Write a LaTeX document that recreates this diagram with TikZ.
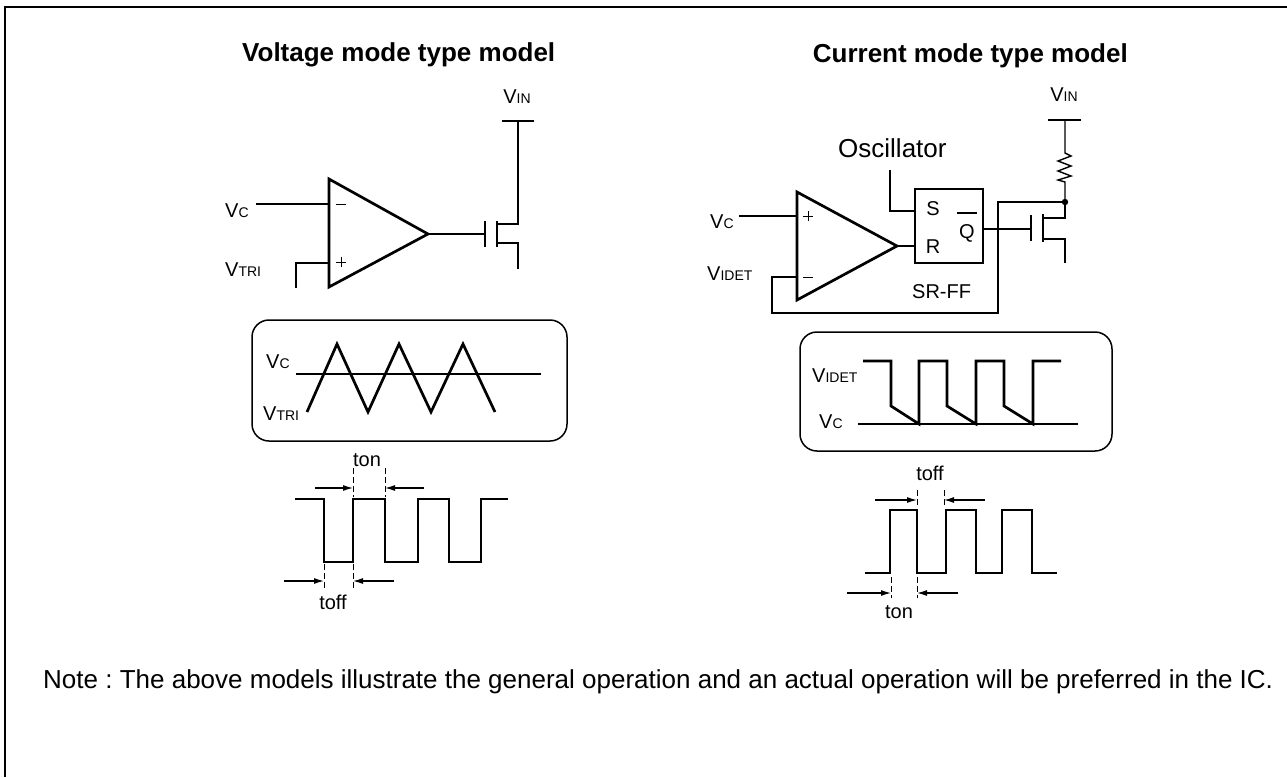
\documentclass[tikz,border=0pt]{standalone}
\usepackage{fontspec}
\setmainfont{Liberation Sans}
\usetikzlibrary{arrows.meta}
\newcommand{\subtxt}[1]{{\fontsize{14}{14}\selectfont #1}}
\frenchspacing
\begin{document}
\begin{tikzpicture}[x=1pt,y=-1pt,
  wire/.style={line width=1.4pt},
  heavy/.style={line width=2.7pt, line join=miter},
  lab/.style={inner sep=0pt, font=\fontsize{20}{24}\selectfont},
  ttl/.style={inner sep=0pt, font=\bfseries\fontsize{26}{30}\selectfont},
  big/.style={inner sep=0pt, font=\fontsize{26}{30}\selectfont},
  dsh/.style={line width=1pt, dash pattern=on 6pt off 3pt},
  arr/.style={line width=1.2pt, -{Latex[length=10pt,width=6pt]}},
  wbox/.style={line width=1.5pt, rounded corners=17pt}
]
\useasboundingbox (0,0) rectangle (1287,777);
% frame
\coordinate (F0) at (5,777);
\coordinate (F1) at (5,7);
\coordinate (F2) at (1287,7);
\draw[line width=2.5pt] (F0) -- (F1) -- (F2);

% titles
\node[ttl, anchor=base west] (tl) at (242,61) {Voltage mode type model};
\node[ttl, anchor=base east] (tr) at (1128,62) {Current mode type model};

% ================= LEFT CIRCUIT =================
\coordinate (LAt) at (329,179);
\coordinate (LAb) at (329,287);
\coordinate (LAo) at (428,234);
\coordinate (LAm) at (329,204);
\coordinate (LAp) at (329,263);
\coordinate (LVcEnd) at (256,204);
\coordinate (LTriEnd) at (296,288);
\coordinate (LG) at (485,234);
\coordinate (LVin) at (518,121);
\coordinate (LD) at (497,224);
\coordinate (LS) at (497,243);
\coordinate (LSrc) at (518,269);

\node[lab, anchor=base] (lvin) at (517,103) {V\subtxt{IN}};
\draw[heavy] (502,121) -- (534,121);
\draw[wire] (LVin) |- (LD);
\draw[wire] (LS) -| (LSrc);
\draw[heavy] (497,221) -- (497,247);
\draw[heavy] (485,221) -- (485,247);
\draw[wire] (LAo) -- (LG);
\draw[heavy] (LAt) -- (LAo) -- (LAb) -- cycle;
\draw[wire] (LVcEnd) -- (LAm);
\draw[wire] (LTriEnd) |- (LAp);
\draw[line width=1pt] (336,204) -- (346,204);
\draw[line width=1pt] (336,262) -- (346,262) (341,257) -- (341,267);
\node[lab, anchor=base west] (lvc) at (225,217) {V\subtxt{C}};
\node[lab, anchor=base west] (lvtri) at (225,276) {V\subtxt{TRI}};

% left waveform box
\draw[wbox] (252,320) rectangle (567,441);
\draw[heavy] (296,374) -- (541,374);
\draw[heavy, line join=miter] (307,412) -- (337,344) -- (368,412) -- (399,344) -- (431,412) -- (463,344) -- (495,412);
\node[lab, anchor=base west] (bvc) at (266,368) {V\subtxt{C}};
\node[lab, anchor=base west] (bvtri) at (263,420) {V\subtxt{TRI}};

% left pulse
\draw[heavy] (295,499) -- (324,499) -- (324,562) -- (353,562) -- (353,499) -- (385,499) -- (385,562) -- (418,562) -- (418,499) -- (449,499) -- (449,562) -- (481,562) -- (481,499) -- (508,499);
\draw[dsh] (353,468) -- (353,497);
\draw[dsh] (385,468) -- (385,497);
\draw[dsh] (324,564) -- (324,588);
\draw[dsh] (353,564) -- (353,588);
\coordinate (la1) at (315,488); \coordinate (la1e) at (353,488);
\coordinate (la2) at (424,488); \coordinate (la2e) at (385,488);
\coordinate (la3) at (284,581); \coordinate (la3e) at (324,581);
\coordinate (la4) at (394,581); \coordinate (la4e) at (353,581);
\draw[arr] (la1) -- (la1e);
\draw[arr] (la2) -- (la2e);
\draw[arr] (la3) -- (la3e);
\draw[arr] (la4) -- (la4e);
\node[lab, anchor=base] (lton) at (367,466) {ton};
\node[lab, anchor=base] (ltoff) at (333,609) {toff};

% ================= RIGHT CIRCUIT =================
\coordinate (RAt) at (797,192);
\coordinate (RAb) at (797,300);
\coordinate (RAo) at (897,246);
\coordinate (RAp) at (797,216);
\coordinate (RAm) at (797,277);
\coordinate (RVcEnd) at (739,216);
\node[draw, line width=2.7pt, minimum width=68pt, minimum height=74pt, inner sep=0pt] (sr) at (949,226) {};
\coordinate (RSin) at (915,211);
\coordinate (RRin) at (915,246);
\coordinate (RQ) at (983,229);
\coordinate (ROsc) at (890,170);
\coordinate (RG) at (1031,229);
\coordinate (RVin) at (1065,120);
\coordinate (RR1) at (1065,153);
\coordinate (RR2) at (1065,182);
\coordinate (RDot) at (1065,202);
\coordinate (RD) at (1043,218);
\coordinate (RS) at (1043,239);
\coordinate (RSrc) at (1065,263);
\coordinate (RFb1) at (998,313);
\coordinate (RFb2) at (772,313);

\node[lab, anchor=base] (rvin) at (1064,101) {V\subtxt{IN}};
\draw[heavy] (1048,120) -- (1081,120);
\draw[wire] (RVin) -- (RR1) -- (1071,156) -- (1058,161) -- (1071,166) -- (1058,171) -- (1071,176) -- (1058,180) -- (RR2) -- (RDot);
\fill (RDot) circle (3.2pt);
\draw[wire] (RDot) |- (RD);
\draw[wire] (RS) -| (RSrc);
\draw[heavy] (1043,214) -- (1043,242);
\draw[heavy] (1031,215) -- (1031,241);
\draw[wire] (RQ) -- (RG);
\draw[wire] (RDot) -| (RFb1) -- (RFb2) |- (RAm);
\draw[heavy] (RAt) -- (RAo) -- (RAb) -- cycle;
\draw[wire] (RVcEnd) -- (RAp);
\draw[wire] (RAo) -- (RRin);
\draw[wire] (ROsc) |- (RSin);
\draw[line width=1pt] (803,216) -- (813,216) (808,211) -- (808,221);
\draw[line width=1pt] (803,277) -- (813,277);
\node[lab, anchor=base] (rs) at (933,215) {S};
\node[lab, anchor=base] (rr) at (933,253) {R};
\node[lab, anchor=base] (rq) at (967,238) {Q};
\draw[line width=1.8pt] (957,213) -- (977,213);
\node[big, anchor=base west] (osc) at (838,157) {Oscillator};
\node[lab, anchor=base west] (rvc) at (710,228) {V\subtxt{C}};
\node[lab, anchor=base west] (rvidet) at (707,280) {V\subtxt{IDET}};
\node[lab, anchor=base west] (srff) at (912,298) {SR-FF};

% right waveform box
\draw[wbox] (800,332) rectangle (1112,451);
\draw[heavy] (858,424) -- (1078,424);
\draw[heavy] (863,361) -- (891,361) -- (891,406) -- (919,424) -- (919,361) -- (947,361) -- (947,406) -- (976,424) -- (976,361) -- (1004,361) -- (1004,406) -- (1033,424) -- (1033,361) -- (1061,361);
\node[lab, anchor=base west] (bvidet) at (812,382) {V\subtxt{IDET}};
\node[lab, anchor=base west] (bvc2) at (819,428) {V\subtxt{C}};

% right pulse
\draw[heavy] (865,573) -- (890,573) -- (890,510) -- (917,510) -- (917,573) -- (946,573) -- (946,510) -- (976,510) -- (976,573) -- (1002,573) -- (1002,510) -- (1032,510) -- (1032,573) -- (1057,573);
\draw[dsh] (917,490) -- (917,508);
\draw[dsh] (944,490) -- (944,508);
\draw[dsh] (891,577) -- (891,598);
\draw[dsh] (917,577) -- (917,598);
\coordinate (ra1) at (875,500); \coordinate (ra1e) at (917,500);
\coordinate (ra2) at (985,500); \coordinate (ra2e) at (944,500);
\coordinate (ra3) at (847,593); \coordinate (ra3e) at (891,593);
\coordinate (ra4) at (958,593); \coordinate (ra4e) at (917,593);
\draw[arr] (ra1) -- (ra1e);
\draw[arr] (ra2) -- (ra2e);
\draw[arr] (ra3) -- (ra3e);
\draw[arr] (ra4) -- (ra4e);
\node[lab, anchor=base] (rtoff) at (930,480) {toff};
\node[lab, anchor=base] (rton) at (899,618) {ton};

% note
\node[big, anchor=base west] (note) at (43,688) {Note : The above models illustrate the general operation and an actual operation will be preferred in the IC.};
\end{tikzpicture}
\end{document}
